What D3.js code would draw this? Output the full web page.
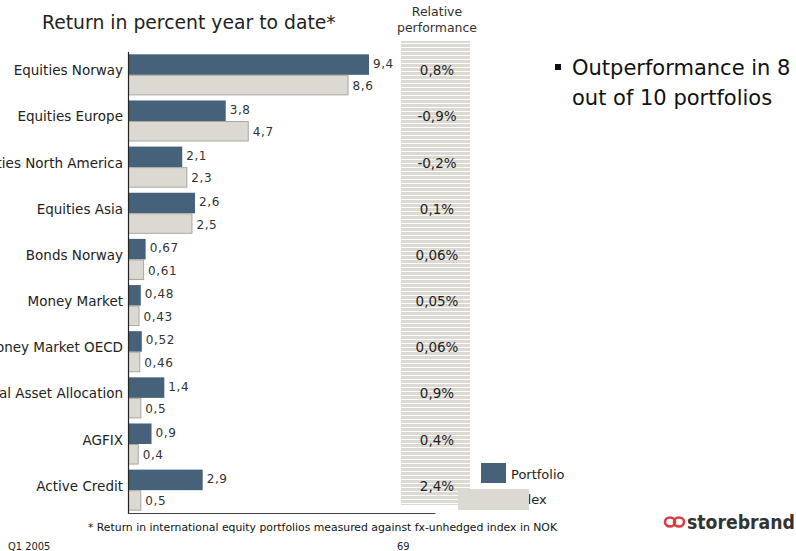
<!DOCTYPE html>
<html>
<head>
<meta charset="utf-8">
<script src="https://cdn.jsdelivr.net/npm/d3@7"></script>
<style>
  body { margin: 0; background: #fff; }
  svg { display: block; font-family: "DejaVu Sans", Verdana, sans-serif; }
</style>
</head>
<body>
<svg id="chart" width="796" height="551"></svg>
<script>
const categories = ['Equities Norway', 'Equities Europe', 'Equities North America', 'Equities Asia',
    'Bonds Norway', 'Money Market', 'Money Market OECD', 'Tactical Asset Allocation', 'AGFIX', 'Active Credit'];
const portfolio = [9.4, 3.8, 2.1, 2.6, 0.67, 0.48, 0.52, 1.4, 0.9, 2.9];
const index = [8.6, 4.7, 2.3, 2.5, 0.61, 0.43, 0.46, 0.5, 0.4, 0.5];
const relative = ['0,8%', '-0,9%', '-0,2%', '0,1%', '0,06%', '0,05%', '0,06%', '0,9%', '0,4%', '2,4%'];

const colors = {
    portfolio: '#46627b',
    index: '#dcd9d2',
    indexStroke: '#a9a7a2',
    text: '#222'
};

const svg = d3.select('#chart');
const fmt = v => String(v).replace('.', ',');

const x = d3.scaleLinear().domain([0, 12]).range([128.5, 435.5]);
const y = d3.scaleBand().domain(categories).range([52, 513]).paddingInner(0.11).paddingOuter(0.05);
const sub = d3.scaleBand().domain(['p', 'i']).range([0, y.bandwidth()]);

// striped relative performance column
const defs = svg.append('defs');
const pat = defs.append('pattern')
    .attr('id', 'stripes')
    .attr('width', 10).attr('height', 4)
    .attr('patternUnits', 'userSpaceOnUse');
pat.append('rect').attr('width', 10).attr('height', 3).attr('fill', colors.index);
svg.append('rect')
    .attr('x', 401).attr('y', 41)
    .attr('width', 69).attr('height', 464)
    .attr('fill', 'url(#stripes)');

// title
svg.append('text')
    .attr('x', 42).attr('y', 29)
    .style('font-size', '18.8px').attr('fill', colors.text)
    .text('Return in percent year to date*');
svg.append('text').attr('x', 437).attr('y', 16)
    .attr('text-anchor', 'middle').style('font-size', '12.5px').attr('fill', '#333')
    .text('Relative');
svg.append('text').attr('x', 437).attr('y', 32)
    .attr('text-anchor', 'middle').style('font-size', '12.5px').attr('fill', '#333')
    .text('performance');

const g = svg.selectAll('.grp')
    .data(categories)
    .enter().append('g')
    .attr('transform', d => `translate(0,${y(d)})`);

g.append('rect')
    .attr('x', x(0))
    .attr('y', sub('p'))
    .attr('width', (d, i) => x(portfolio[i]) - x(0))
    .attr('height', sub.bandwidth())
    .attr('fill', colors.portfolio);

g.append('rect')
    .attr('x', x(0))
    .attr('y', sub('i') + 0.5)
    .attr('width', (d, i) => x(index[i]) - x(0) - 0.5)
    .attr('height', sub.bandwidth() - 1)
    .attr('fill', colors.index)
    .attr('stroke', colors.indexStroke)
    .attr('stroke-width', 1);

g.append('text')
    .attr('x', (d, i) => x(portfolio[i]) + 4)
    .attr('y', sub('p') + sub.bandwidth() / 2 + 3)
    .style('font-size', '12px').attr('fill', '#333')
    .attr('letter-spacing', '0.6px')
    .text((d, i) => fmt(portfolio[i]));

g.append('text')
    .attr('x', (d, i) => x(index[i]) + 4)
    .attr('y', sub('i') + sub.bandwidth() / 2 + 5)
    .style('font-size', '12px').attr('fill', '#333')
    .attr('letter-spacing', '0.6px')
    .text((d, i) => fmt(index[i]));

g.append('text')
    .attr('x', 123)
    .attr('y', y.bandwidth() / 2 + 0.5)
    .attr('text-anchor', 'end')
    .style('font-size', '13.5px').attr('fill', colors.text)
    .text(d => d);

g.append('text')
    .attr('x', 437)
    .attr('y', y.bandwidth() / 2 + 0.5)
    .attr('text-anchor', 'middle')
    .style('font-size', '13.5px').attr('fill', colors.text)
    .text((d, i) => relative[i]);

// axes lines
svg.append('line')
    .attr('x1', x(0)).attr('x2', x(0))
    .attr('y1', 52).attr('y2', 514)
    .attr('stroke', '#222').attr('stroke-width', 1.2);
svg.append('line')
    .attr('x1', x(0)).attr('x2', x(12))
    .attr('y1', 513.5).attr('y2', 513.5)
    .attr('stroke', '#444').attr('stroke-width', 1);

// legend
svg.append('rect').attr('x', 481).attr('y', 463).attr('width', 25).attr('height', 20).attr('fill', colors.portfolio);
svg.append('text').attr('x', 511).attr('y', 479).style('font-size', '13px').attr('fill', colors.text).text('Portfolio');
svg.append('text').attr('x', 511).attr('y', 504).style('font-size', '13px').attr('fill', colors.text).text('Index');
svg.append('rect').attr('x', 458).attr('y', 489).attr('width', 71).attr('height', 21).attr('fill', colors.index);

// bullet text
svg.append('rect').attr('x', 555).attr('y', 64).attr('width', 6).attr('height', 6).attr('fill', '#111');
svg.append('text').attr('x', 572).attr('y', 75).style('font-size', '21px').attr('fill', '#111').text('Outperformance in 8');
svg.append('text').attr('x', 572).attr('y', 105).style('font-size', '21px').attr('fill', '#111').text('out of 10 portfolios');

// footer
svg.append('text').attr('x', 88).attr('y', 531)
    .style('font-family', '"DejaVu Sans Condensed", "Liberation Sans Narrow", sans-serif')
    .style('font-size', '11px').attr('fill', '#111')
    .attr('textLength', 469).attr('lengthAdjust', 'spacingAndGlyphs')
    .text('* Return in international equity portfolios measured against fx-unhedged index in NOK');
svg.append('text').attr('x', 8).attr('y', 550)
    .style('font-family', '"DejaVu Sans Condensed", sans-serif').style('font-size', '11px').attr('fill', '#222')
    .text('Q1 2005');
svg.append('text').attr('x', 397).attr('y', 550)
    .style('font-family', '"DejaVu Sans Condensed", sans-serif').style('font-size', '11px').attr('fill', '#222')
    .text('69');

// logo
const logo = svg.append('g').attr('transform', 'translate(664,522)');
logo.append('ellipse').attr('cx', 6).attr('cy', 0).attr('rx', 5).attr('ry', 4.5)
    .attr('fill', 'none').attr('stroke', '#e03a3e').attr('stroke-width', 2.6);
logo.append('ellipse').attr('cx', 15).attr('cy', 0).attr('rx', 5).attr('ry', 4.5)
    .attr('fill', 'none').attr('stroke', '#e03a3e').attr('stroke-width', 2.6);
logo.append('text').attr('x', 23).attr('y', 6.5)
    .style('font-size', '19px').style('font-weight', 'bold').attr('fill', '#333')
    .style('font-family', '"DejaVu Sans Condensed", sans-serif')
    .attr('textLength', 108).attr('lengthAdjust', 'spacingAndGlyphs')
    .text('storebrand');
</script>
</body>
</html>
